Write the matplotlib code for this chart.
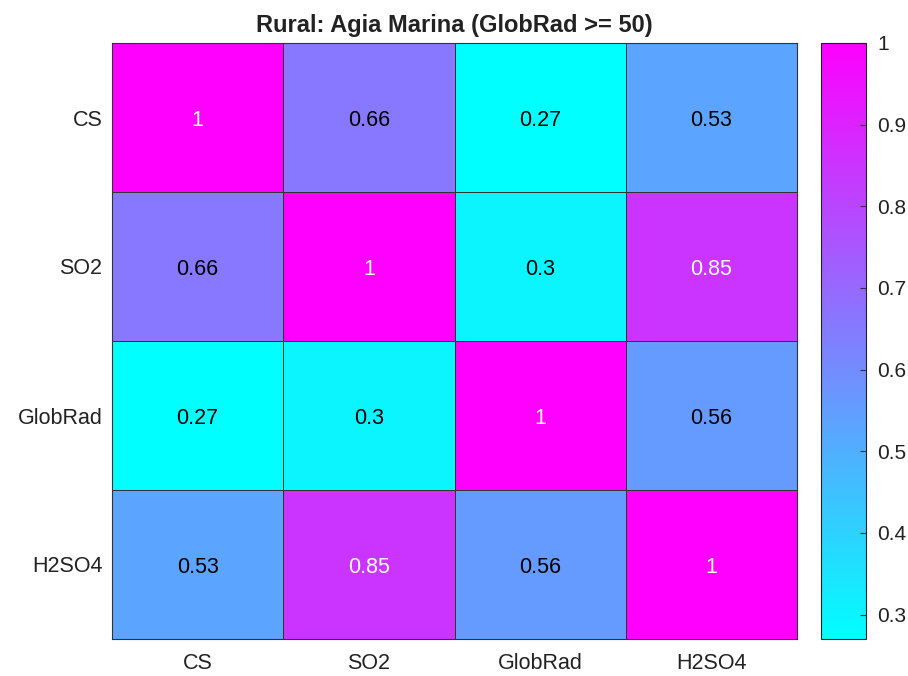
import numpy as np
import matplotlib
matplotlib.use('Agg')
import matplotlib.pyplot as plt

plt.rcParams['font.family'] = ['Liberation Sans', 'DejaVu Sans']

labels = ['CS', 'SO2', 'GlobRad', 'H2SO4']
corr = np.array([
    [1.00, 0.66, 0.27, 0.53],
    [0.66, 1.00, 0.30, 0.85],
    [0.27, 0.30, 1.00, 0.56],
    [0.53, 0.85, 0.56, 1.00],
])
cbar_ticks = [0.3, 0.4, 0.5, 0.6, 0.7, 0.8, 0.9, 1.0]
title = 'Rural: Agia Marina (GlobRad >= 50)'

vmin, vmax = corr.min(), corr.max()
cmap = plt.get_cmap('cool', 256)

fig = plt.figure(figsize=(9.08, 6.76), dpi=100)
ax = fig.add_axes([112 / 908, 1 - 639 / 676, 685 / 908, 596 / 676])
cax = fig.add_axes([821 / 908, 1 - 639 / 676, 45 / 908, 596 / 676])

n = len(labels)
mesh = ax.pcolormesh(np.arange(n + 1), np.arange(n + 1), corr, cmap=cmap,
                     vmin=vmin, vmax=vmax, edgecolors='#333333', linewidth=0.6)
ax.set_xlim(0, n)
ax.set_ylim(n, 0)

# text colour flips to white on the darkest (high value) cells
for i in range(n):
    for j in range(n):
        v = corr[i, j]
        txt = f'{v:g}'
        color = 'white' if (v - vmin) / (vmax - vmin) > 0.75 else 'black'
        ax.text(j + 0.5, i + 0.52, txt, ha='center', va='center',
                fontsize=15.5, color=color)

ax.set_xticks(np.arange(n) + 0.5)
ax.set_yticks(np.arange(n) + 0.5)
ax.set_xticklabels(labels, fontsize=15.5, color='#222222')
ax.set_yticklabels(labels, fontsize=15.5, color='#222222')
ax.tick_params(axis='y', length=0, pad=7)
ax.tick_params(axis='x', length=0, pad=10)
for s in ax.spines.values():
    s.set_color('#333333')
    s.set_linewidth(0.8)

ax.set_title(title, fontsize=17, fontweight='bold', color='#222222', pad=8)

cb = fig.colorbar(mesh, cax=cax, ticks=cbar_ticks)
cb.ax.set_yticklabels([f'{t:g}' for t in cbar_ticks], fontsize=15, color='#222222')
cb.ax.tick_params(direction='in', length=4, width=0.8, color='#333333', pad=8)
cb.outline.set_edgecolor('#222222')
cb.outline.set_linewidth(0.8)

fig.savefig('out.png', dpi=100)
